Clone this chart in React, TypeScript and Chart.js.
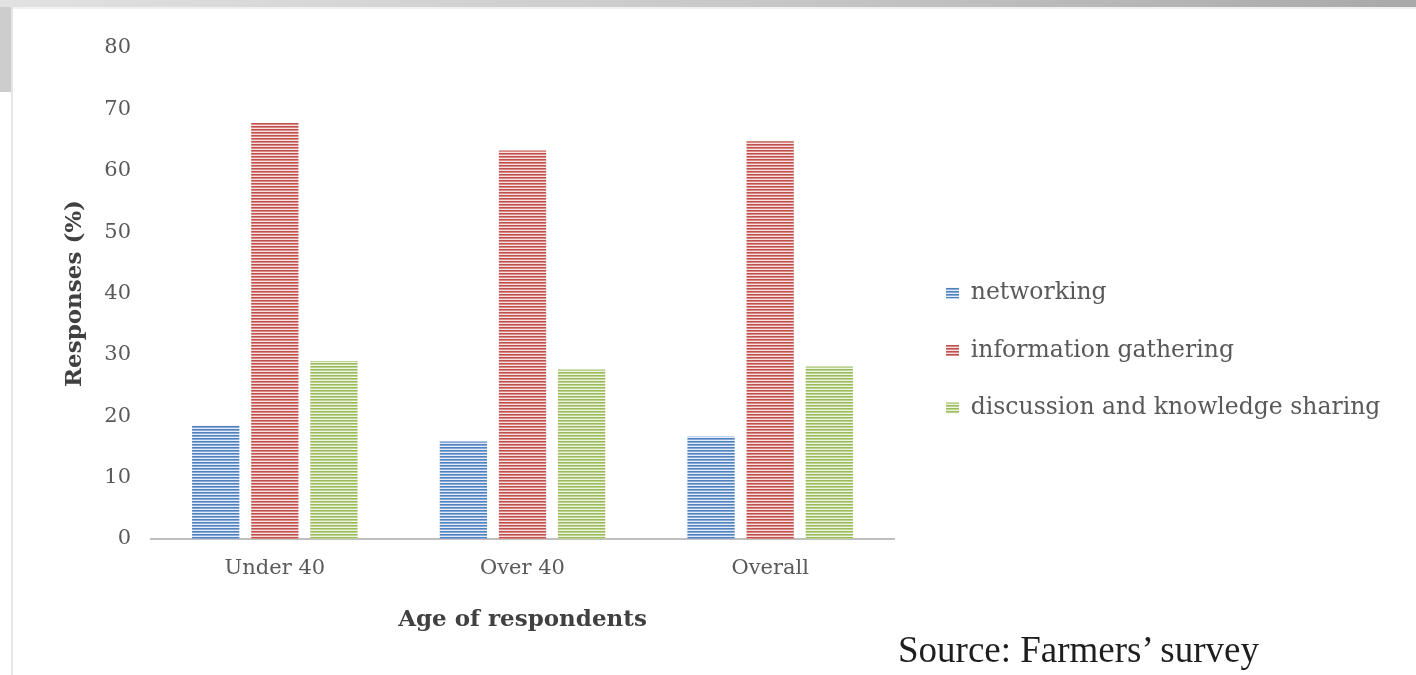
import React, { useEffect, useRef } from "react";
import { Chart, registerables } from "chart.js";

Chart.register(...registerables);

const categories = ["Under 40", "Over 40", "Overall"];
const seriesNames = ["networking", "information gathering", "discussion and knowledge sharing"];
const networking = [18.5, 15.9, 16.7];
const informationGathering = [67.8, 63.3, 64.8];
const discussionSharing = [29.0, 27.6, 28.1];
const yTicks = [0, 10, 20, 30, 40, 50, 60, 70, 80];
const xTitle = "Age of respondents";
const yTitle = "Responses (%)";
const sourceNote = "Source: Farmers\u2019 survey";

function stripePattern(ctx: CanvasRenderingContext2D, c1: string, c2: string, c3: string) {
  const cv = document.createElement("canvas");
  cv.width = 4;
  cv.height = 3;
  const p = cv.getContext("2d")!;
  p.fillStyle = c1;
  p.fillRect(0, 0, 4, 1);
  p.fillStyle = c2;
  p.fillRect(0, 1, 4, 1);
  p.fillStyle = c3;
  p.fillRect(0, 2, 4, 1);
  return ctx.createPattern(cv, "repeat")!;
}

const legendPlace = {
  id: "legendPlace",
  afterLayout(chart: any) {
    const lg = chart.legend;
    if (lg) {
      lg.left = chart.chartArea.right + 18;
      lg.right = chart.width - 2;
      lg.width = lg.right - lg.left;
    }
  },
};

export default function App() {
  const canvasRef = useRef<HTMLCanvasElement | null>(null);

  useEffect(() => {
    const canvas = canvasRef.current!;
    const ctx = canvas.getContext("2d")!;
    const blue = stripePattern(ctx, "#4f81bd", "#86a8d8", "#e6edf7");
    const red = stripePattern(ctx, "#c0504d", "#d88986", "#f5e1e0");
    const green = stripePattern(ctx, "#9bbb59", "#bcd292", "#eef4e3");
    const fills = [blue, red, green];
    const values = [networking, informationGathering, discussionSharing];

    const chart = new Chart(canvas, {
      type: "bar",
      data: {
        labels: categories,
        datasets: seriesNames.map((name, i) => ({
          label: name,
          data: values[i],
          backgroundColor: fills[i] as any,
          borderWidth: 0,
          categoryPercentage: 0.716,
          barPercentage: 0.8,
        })),
      },
      options: {
        animation: false,
        responsive: true,
        maintainAspectRatio: false,
        layout: { padding: { top: 48, bottom: 22, left: 0, right: 462 } },
        plugins: {
          tooltip: { enabled: false },
          legend: {
            position: "right",
            maxWidth: 60,
            labels: {
              boxWidth: 13,
              boxHeight: 11,
              padding: 34,
              color: "#595959",
              font: { family: "DejaVu Serif", size: 23.5 },
            },
          },
        },
        scales: {
          x: {
            grid: { display: false, drawTicks: false },
            border: { display: true, color: "#bfbfbf", width: 2 },
            ticks: {
              padding: 17,
              color: "#595959",
              font: { family: "DejaVu Serif", size: 21 },
            },
            title: {
              display: true,
              text: xTitle,
              color: "#404040",
              font: { family: "DejaVu Serif", size: 23, weight: "bold" },
              padding: { top: 0, bottom: 19 },
            },
            afterFit: (s: any) => {
              s.height = 114;
            },
          },
          y: {
            min: yTicks[0],
            max: yTicks[yTicks.length - 1],
            grid: { display: false, drawTicks: false },
            border: { display: false },
            afterBuildTicks: (s: any) => {
              s.ticks = yTicks.map((v) => ({ value: v }));
            },
            ticks: {
              padding: 20,
              color: "#595959",
              font: { family: "DejaVu Serif", size: 21 },
            },
            title: {
              display: true,
              text: yTitle,
              color: "#404040",
              font: { family: "DejaVu Serif", size: 23, weight: "bold" },
              padding: { top: 61, bottom: 0 },
            },
            afterFit: (s: any) => {
              s.width = 151;
            },
          },
        },
      },
      plugins: [legendPlace],
    });
    return () => chart.destroy();
  }, []);

  return (
    <div
      style={{
        position: "absolute",
        left: 0,
        top: 0,
        width: 1416,
        height: 675,
        background: "#ffffff",
        overflow: "hidden",
      }}
    >
      <div
        style={{
          position: "absolute",
          left: 0,
          top: 0,
          width: 1416,
          height: 7,
          background: "linear-gradient(to right, #e2e2e2, #c4c4c4 60%, #a9a9a9)",
        }}
      />
      <div
        style={{
          position: "absolute",
          left: 0,
          top: 7,
          width: 11,
          height: 85,
          background: "#cdcdcd",
        }}
      />
      <div
        style={{
          position: "absolute",
          left: 11,
          top: 7,
          width: 2,
          height: 668,
          background: "#e6e6e6",
        }}
      />
      <div
        style={{
          position: "absolute",
          left: 13,
          top: 7,
          width: 1403,
          height: 2,
          background: "#f0f0f0",
        }}
      />
      <div style={{ position: "absolute", left: 0, top: 0, width: 1416, height: 675 }}>
        <canvas ref={canvasRef} />
      </div>
      <div
        style={{
          position: "absolute",
          left: 898,
          top: 631,
          fontFamily: "Liberation Serif",
          fontSize: 37,
          lineHeight: 1,
          color: "#1e1e1e",
          whiteSpace: "nowrap",
        }}
      >
        {sourceNote}
      </div>
    </div>
  );
}
